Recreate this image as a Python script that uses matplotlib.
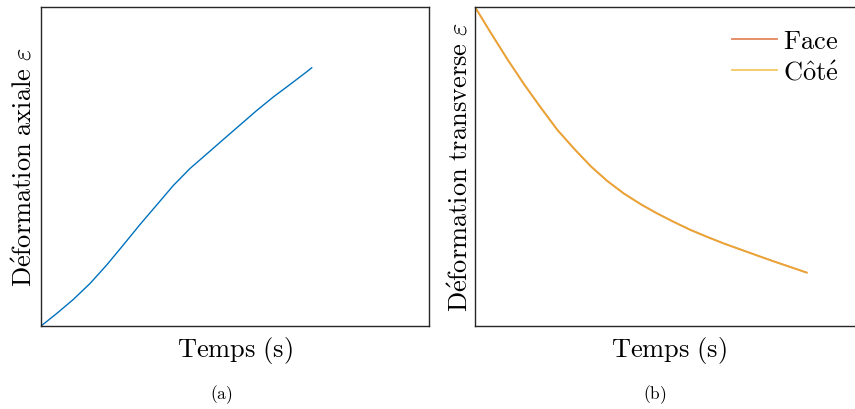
import matplotlib
matplotlib.use("Agg")
import matplotlib.pyplot as plt

plt.rcParams['mathtext.fontset'] = 'cm'
plt.rcParams['font.family'] = ['DejaVu Serif']

# Data (normalised time, normalised strain)
t_axial = [0.0, 4.05, 8.32, 12.63, 16.93, 21.21, 25.52, 29.82, 34.10, 38.40,
           42.71, 46.98, 51.29, 55.59, 59.87, 64.18, 68.48, 69.77]
eps_axial = [0.0, 3.92, 8.31, 13.32, 19.12, 25.39, 31.82, 37.93, 44.04, 49.37,
             53.92, 58.46, 63.01, 67.55, 71.79, 75.71, 79.69, 80.94]

t_trans = [0.0, 4.05, 8.32, 12.63, 16.93, 21.21, 25.52, 29.82, 34.10, 38.40,
           42.71, 46.83, 51.11, 55.41, 59.72, 64.0, 68.30, 72.60, 76.88, 81.19, 85.49]
eps_face = [100.0, 91.94, 83.67, 75.80, 68.50, 61.50, 55.61, 50.09, 45.45, 41.50,
            38.18, 35.36, 32.70, 30.19, 27.99, 25.92, 24.04, 22.16, 20.31, 18.53, 16.74]
eps_cote = [100.0, 91.94, 83.67, 75.80, 68.50, 61.50, 55.61, 50.09, 45.45, 41.50,
            38.18, 35.36, 32.70, 30.19, 27.99, 25.92, 24.04, 22.16, 20.31, 18.53, 16.74]

labels = ["$\\mathrm{Face}$", "$\\mathrm{C\\hat{o}t\\acute{e}}$"]
xlabel = "$\\mathrm{Temps\\ (s)}$"
ylabel_a = "$\\mathrm{D\\acute{e}formation\\ axiale}\\ \\varepsilon$"
ylabel_b = "$\\mathrm{D\\acute{e}formation\\ transverse}\\ \\varepsilon$"
captions = ["$\\mathrm{(a)}$", "$\\mathrm{(b)}$"]

W, H = 855, 410
fig = plt.figure(figsize=(W / 100, H / 100), dpi=100)

def px_axes(x0, x1, ytop, ybot):
    return fig.add_axes([x0 / W, (H - ybot) / H, (x1 - x0) / W, (ybot - ytop) / H])

ax1 = px_axes(41, 429, 8, 327)
ax2 = px_axes(475, 863, 8, 327)

ax1.plot(t_axial, eps_axial, color='#0072BD', lw=1.0)
ax2.plot(t_trans, eps_face, color='#D95319', alpha=0.7, lw=1.3, label=labels[0])
ax2.plot(t_trans, eps_cote, color='#EDB120', alpha=0.7, lw=1.3, label=labels[1])

for ax in (ax1, ax2):
    ax.set_xlim(0, 100)
    ax.set_ylim(0, 100)
    ax.set_xticks([])
    ax.set_yticks([])
    for s in ax.spines.values():
        s.set_color('#262626')
        s.set_linewidth(1.0)
    ax.set_xlabel(xlabel, fontsize=19, labelpad=6)

ax1.set_ylabel(ylabel_a, fontsize=19, labelpad=3)
ax2.set_ylabel(ylabel_b, fontsize=19, labelpad=1.5)

fig.text(221 / W, 1 - 395 / H, captions[0], fontsize=12.5, ha='center', va='center')
fig.text(655 / W, 1 - 395 / H, captions[1], fontsize=12.5, ha='center', va='center')

leg = ax2.legend(loc='upper left', bbox_to_anchor=(732 / W, 1 - 29 / H),
                 bbox_transform=fig.transFigure, frameon=False, fontsize=19,
                 handlelength=1.7, handletextpad=0.23, labelspacing=0.25,
                 borderaxespad=0, borderpad=0)

fig.savefig("out.png", dpi=100)
